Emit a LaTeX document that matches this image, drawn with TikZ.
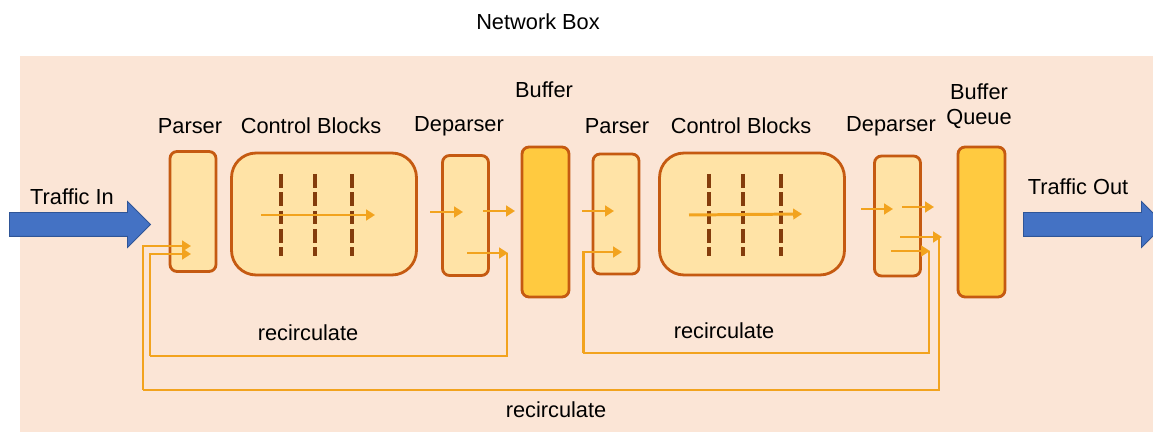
\documentclass[tikz,border=0pt]{standalone}
\usepackage{fontspec}
\setmainfont{Liberation Sans}
\usetikzlibrary{shapes.arrows,arrows.meta}
\definecolor{netbg}{HTML}{FBE5D6}
\definecolor{stagefill}{HTML}{FFE3A6}
\definecolor{stageline}{HTML}{C55A11}
\definecolor{buffill}{HTML}{FFCA40}
\definecolor{flowcol}{HTML}{F2A31E}
\definecolor{dashcol}{HTML}{843C0C}
\definecolor{trafcol}{HTML}{4472C4}
\definecolor{trafline}{HTML}{2F5597}
\begin{document}
\begin{tikzpicture}
		[x=0.02cm,y=-0.02cm,
		stage/.style={draw=stageline,fill=stagefill,line width=1.6pt,rounded corners=4pt,inner sep=0pt,minimum width=0.92cm,minimum height=2.4cm},
		ctrl/.style={stage,rounded corners=14pt,minimum width=3.7cm,minimum height=2.44cm},
		buf/.style={stage,fill=buffill,minimum width=0.94cm,minimum height=3cm},
		traffic/.style={single arrow,draw=trafline,fill=trafcol,line width=0.5pt,inner sep=0pt,inner ysep=0.23cm,single arrow head extend=0.22cm,minimum width=0.9cm,minimum height=2.82cm,anchor=tail},
		lbl/.style={font=\fontsize{12.4}{14.5}\selectfont,inner sep=0pt,align=center},
		flow/.style={draw=flowcol,line width=1.7pt,-{Triangle[length=5pt,width=6pt]}},
		loopline/.style={draw=flowcol,line width=1.6pt},
		dashline/.style={draw=dashcol,line width=2.7pt,dash pattern=on 7.9pt off 2.5pt}]
		\useasboundingbox (0,0) rectangle (1153,435);
		\fill[netbg] (20,56) rectangle (1153,432);
		\node[lbl,name=title] at (538,22) {Network Box};
		% stages
		\node[stage,name=par1] at (193,211.5) {};
		\node[ctrl,name=cb1] at (324,214) {};
		\node[stage,name=dep1] at (465.5,215.5) {};
		\node[buf,name=buf1] at (545.5,222) {};
		\node[stage,name=par2] at (616,214) {};
		\node[ctrl,name=cb2] at (752,214) {};
		\node[stage,name=dep2] at (897.5,216) {};
		\node[buf,name=buf2] at (981.5,222) {};
		\node[traffic,name=tin] at (9,224.5) {};
		\node[traffic,name=tout] at (1023,224.5) {};
		% labels
		\node[lbl,name=l-par1] at (190,126) {Parser};
		\node[lbl,name=l-cb1] at (311,126) {Control Blocks};
		\node[lbl,name=l-dep1] at (459,126) {Deparser};
		\node[lbl,name=l-buf1] at (544,90) {Buffer};
		\node[lbl,name=l-par2] at (617,126) {Parser};
		\node[lbl,name=l-cb2] at (741,126) {Control Blocks};
		\node[lbl,name=l-dep2] at (891,126) {Deparser};
		\node[lbl,name=l-buf2] at (979,106) {Buffer\\Queue};
		\node[lbl,name=l-tin] at (72,197) {Traffic In};
		\node[lbl,name=l-tout] at (1078,187) {Traffic Out};
		\node[lbl,name=l-rec1] at (308,333) {recirculate};
		\node[lbl,name=l-rec2] at (724,331) {recirculate};
		\node[lbl,name=l-rec3] at (556,410) {recirculate};
		% stages inside the control blocks
		\foreach \x in {281,315,352,709,743,781}
		{
			\draw[dashline] (\x,174) -- (\x,256);
		}
		% flow points
		\coordinate (cb1s) at (261,215);
		\coordinate (cb1e) at (375,215);
		\coordinate (cb2s) at (689,215);
		\coordinate (cb2e) at (802,214);
		\coordinate (d1as) at (430,212);
		\coordinate (d1ae) at (463,212);
		\coordinate (d1bs) at (483,211);
		\coordinate (d1be) at (515,211);
		\coordinate (d1cs) at (467,253);
		\coordinate (d1ce) at (508,253);
		\coordinate (p2as) at (582,211);
		\coordinate (p2ae) at (614,211);
		\coordinate (d2as) at (861,209);
		\coordinate (d2ae) at (893,209);
		\coordinate (d2bs) at (902,207);
		\coordinate (d2be) at (934,207);
		\coordinate (d2cs) at (900,237);
		\coordinate (d2ce) at (942,237);
		\coordinate (d2ds) at (891,251);
		\coordinate (d2de) at (930,251);
		\foreach \a/\b in {cb1s/cb1e,cb2s/cb2e,d1as/d1ae,d1bs/d1be,d1cs/d1ce,p2as/p2ae,d2as/d2ae,d2bs/d2be,d2cs/d2ce,d2ds/d2de}
		{
			\draw[flow] (\a) -- (\b);
		}
		% recirculation loops
		\coordinate (r1top) at (507,253);
		\coordinate (r1low) at (150,356);
		\coordinate (r1in) at (191,254);
		\coordinate (r2top) at (929,251);
		\coordinate (r2low) at (583,353);
		\coordinate (r2in) at (622,252);
		\coordinate (r3top) at (939,237);
		\coordinate (r3low) at (143,390);
		\coordinate (r3in) at (191,246);
		\draw[loopline] (r1top) |- (r1low);
		\draw[flow] (r1low) |- (r1in);
		\draw[loopline] (r2top) |- (r2low);
		\draw[flow] (r2low) |- (r2in);
		\draw[loopline] (r3top) |- (r3low);
		\draw[flow] (r3low) |- (r3in);
	\end{tikzpicture}
\end{document}
